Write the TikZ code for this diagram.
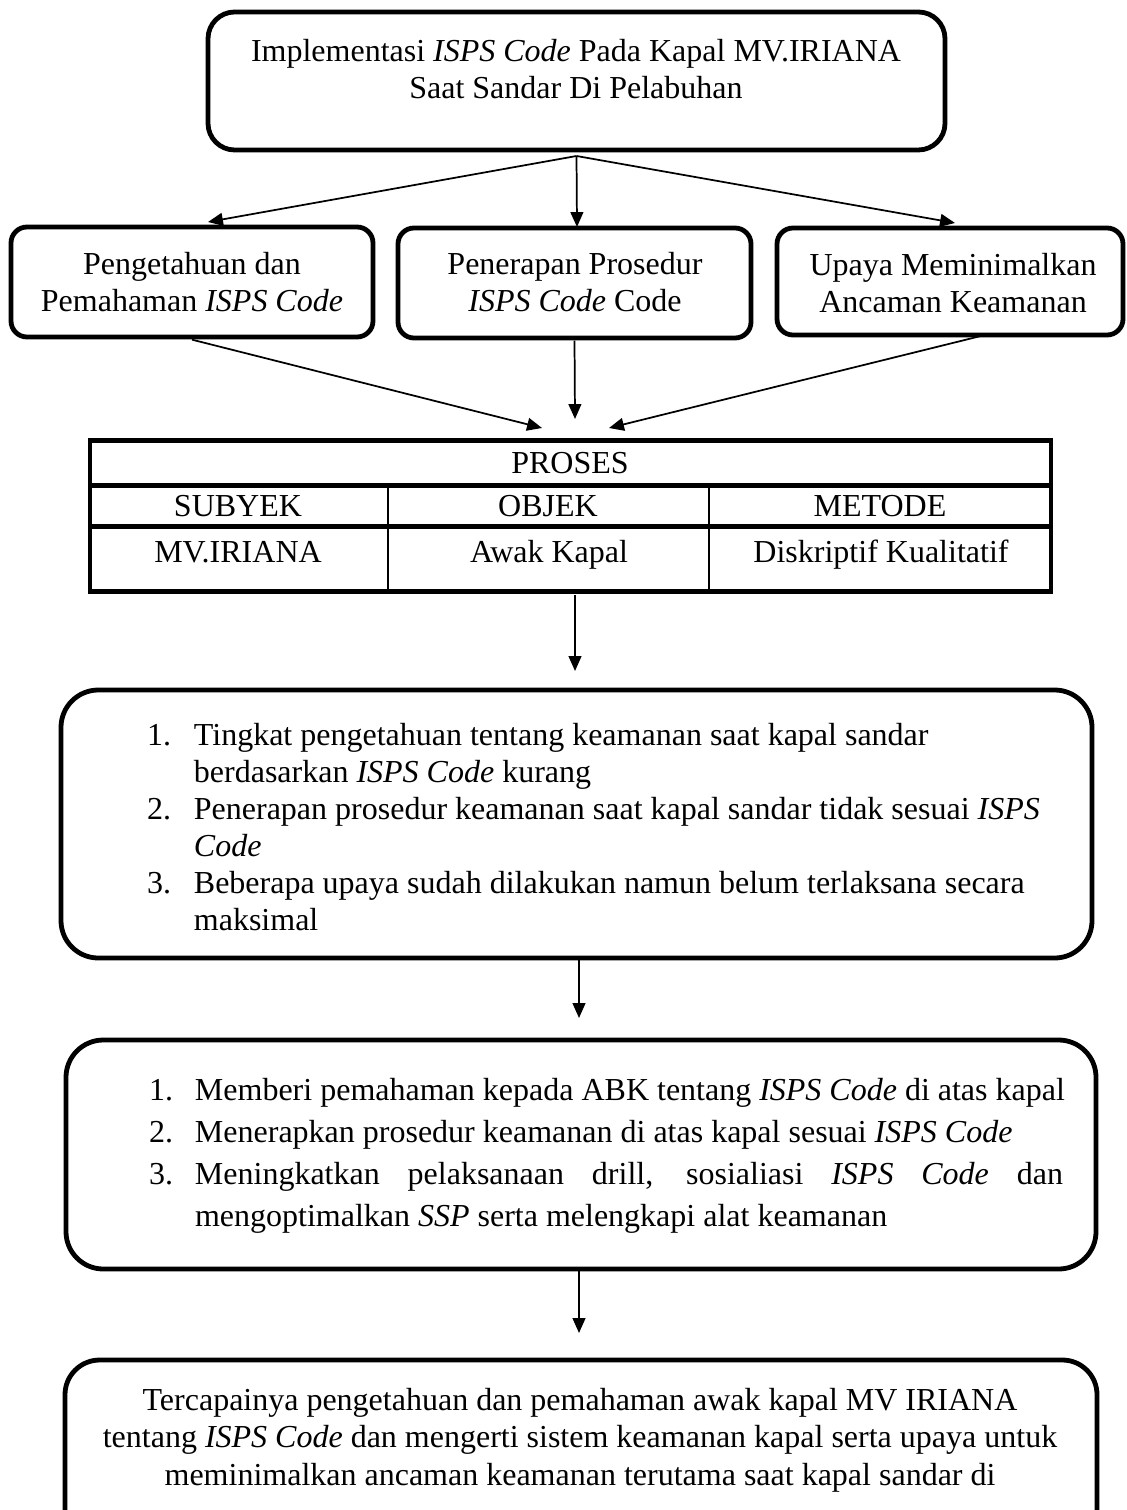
\documentclass[tikz,border=0pt]{standalone}
\usepackage{fontspec}
\setmainfont{Liberation Serif}
\usetikzlibrary{arrows.meta,fit}
\begin{document}
\begin{tikzpicture}[x=0.375pt,y=-0.375pt,
  rbox/.style={draw, line width=1.8pt, inner sep=0pt, outer sep=0pt},
  arr/.style={-{Triangle[length=5.6pt,width=4.8pt]}, line width=0.65pt},
  txt/.style={inner sep=0pt, outer sep=0pt, font=\fontsize{12}{13.6}\selectfont},
  thickrule/.style={line width=1.9pt},
  siderule/.style={line width=1.4pt},
  thinrule/.style={line width=0.75pt},
]
\useasboundingbox (0,0) rectangle (1126,1510);
\clip (0,0) rectangle (1126,1510);

% ---------- top box
\node[rbox, rounded corners=10pt, fit={(208,12) (945,150)}] (top) {};
\node[txt, anchor=base] (toptxt) at (576,62) {\parbox[t]{300pt}{\centering Implementasi \textit{ISPS Code} Pada Kapal MV.IRIANA\\Saat Sandar Di Pelabuhan}};

% ---------- three boxes
\node[rbox, rounded corners=6pt, fit={(11,227) (373,337)}] (b1) {};
\node[txt, anchor=base] (b1t) at (192,275) {\parbox[t]{200pt}{\centering Pengetahuan dan\\Pemahaman \textit{ISPS Code}}};
\node[rbox, rounded corners=6pt, fit={(398,228) (751,338)}] (b2) {};
\node[txt, anchor=base] (b2t) at (575,275) {\parbox[t]{200pt}{\centering Penerapan Prosedur\\\textit{ISPS Code} Code}};
\node[rbox, rounded corners=6pt, fit={(777,228) (1123,335)}] (b3) {};
\node[txt, anchor=base] (b3t) at (953,276) {\parbox[t]{200pt}{\centering Upaya Meminimalkan\\Ancaman Keamanan}};

\coordinate (s0) at ([yshift=-2.25pt]top.south);
\coordinate (e1) at (208,222);
\coordinate (e2) at (577,227);
\coordinate (e3) at (955,223);
\draw[arr] (s0) -- (e1);
\draw[arr] (s0) -- (e2);
\draw[arr] (s0) -- (e3);

% ---------- table
\node[inner sep=0pt, outer sep=0pt, fit={(88,440.5) (1052,591.5)}] (tab) {};
\coordinate (f1) at (542,428);
\coordinate (f2) at (575,419);
\coordinate (f3) at (609,428);
\draw[arr] ([yshift=-1pt]b1.south) -- (f1);
\draw[arr] ([yshift=-1pt]b2.south) -- (f2);
\draw[arr] ([xshift=11.5pt,yshift=-0.4pt]b3.south) -- (f3);

\draw[thickrule] (88,440.5) -- (1053,440.5);
\draw[thickrule] (88,485.5) -- (1053,485.5);
\draw[thickrule] (88,526.5) -- (1053,526.5);
\draw[thickrule] (88,591.5) -- (1053,591.5);
\draw[siderule] (89.8,438) -- (89.8,594);
\draw[siderule] (1051,438) -- (1051,594);
\draw[thinrule] (388,485.5) -- (388,591.5);
\draw[thinrule] (709,485.5) -- (709,591.5);

\node[txt, anchor=base] (proses) at (570,473) {PROSES};
\node[txt, anchor=base] (subyek) at (238,517) {SUBYEK};
\node[txt, anchor=base] (objek) at (548,517) {OBJEK};
\node[txt, anchor=base] (metode) at (880,517) {METODE};
\node[txt, anchor=base] (mv) at (238,562) {MV.IRIANA};
\node[txt, anchor=base] (awak) at (549,562) {Awak Kapal};
\node[txt, anchor=base] (disk) at (881,562) {Diskriptif Kualitatif};

% ---------- box 4
\node[rbox, rounded corners=14pt, fit={(61,690) (1092,958)}] (b4) {};
\coordinate (g1) at (575,595);
\coordinate (g2) at (575,671);
\draw[arr] (g1) -- (g2);
\node[txt, anchor=base west] (b4t) at (147,745) {\parbox[t]{400pt}{\fontsize{12}{13.875}\selectfont
\makebox[17.6pt][l]{1.}Tingkat pengetahuan tentang keamanan saat kapal sandar\\
\hspace*{17.6pt}berdasarkan \textit{ISPS Code} kurang\\
\makebox[17.6pt][l]{2.}Penerapan prosedur keamanan saat kapal sandar tidak sesuai \textit{ISPS}\\
\hspace*{17.6pt}\textit{Code}\\
\makebox[17.6pt][l]{3.}Beberapa upaya sudah dilakukan namun belum terlaksana secara\\
\hspace*{17.6pt}maksimal}};

% ---------- box 5
\node[rbox, rounded corners=14pt, fit={(66,1040) (1096,1269)}] (b5) {};
\coordinate (h1) at (579,960);
\coordinate (h2) at (579,1018);
\draw[arr] (h1) -- (h2);
\node[txt, anchor=base west] (b5t) at (149,1100) {\parbox[t]{400pt}{\fontsize{12}{15.75}\selectfont
\makebox[17.25pt][l]{1.}Memberi pemahaman kepada ABK tentang \textit{ISPS Code} di atas kapal\\
\makebox[17.25pt][l]{2.}Menerapkan prosedur keamanan di atas kapal sesuai \textit{ISPS Code}\\
\makebox[17.25pt][l]{3.}\makebox[325.5pt][s]{Meningkatkan pelaksanaan drill, sosialiasi \textit{ISPS Code} dan}\\
\hspace*{17.25pt}mengoptimalkan \textit{SSP} serta melengkapi alat keamanan}};

% ---------- box 6
\node[rbox, rounded corners=13pt, fit={(65,1360) (1097,1560)}] (b6) {};
\coordinate (k1) at (579,1271);
\coordinate (k2) at (579,1333);
\draw[arr] (k1) -- (k2);
\node[txt, anchor=base] (b6t) at (580,1410) {\parbox[t]{420pt}{\fontsize{12}{14.06}\selectfont\centering
Tercapainya pengetahuan dan pemahaman awak kapal MV IRIANA\\
tentang \textit{ISPS Code} dan mengerti sistem keamanan kapal serta upaya untuk\\
meminimalkan ancaman keamanan terutama saat kapal sandar di}};
\end{tikzpicture}
\end{document}
